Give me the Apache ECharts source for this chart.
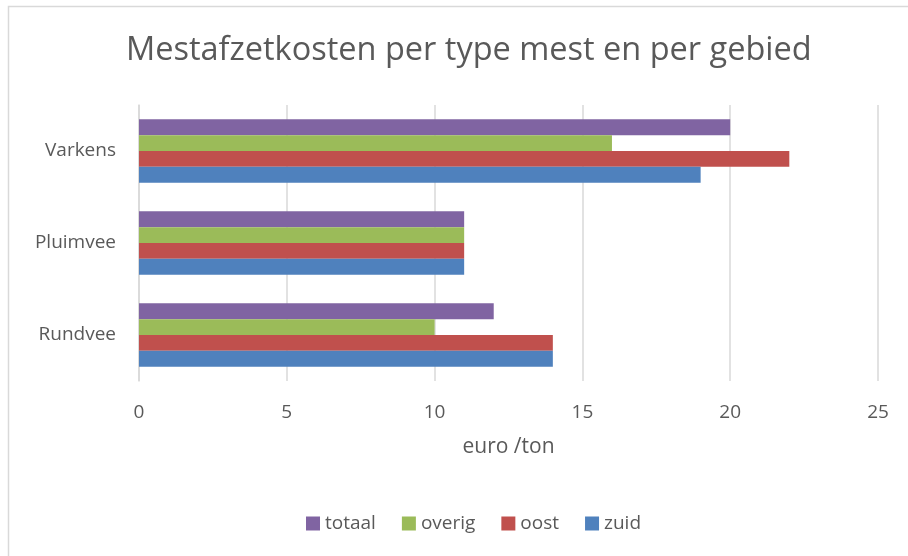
<!DOCTYPE html>
<html>
<head>
<meta charset="utf-8">
<script src="https://cdn.jsdelivr.net/npm/echarts@6/dist/echarts.min.js"></script>
<style>
  html, body { margin: 0; padding: 0; background: #fff; }
  #main { width: 908px; height: 556px; }
</style>
</head>
<body>
<div id="main"></div>
<script>
// categories (van onder naar boven)
var categories = ["Rundvee", "Pluimvee", "Varkens"];
var tickValues = [0, 5, 10, 15, 20, 25];
// waarden per gebied, euro/ton
var zuid = [14, 11, 19];
var oost = [14, 11, 22];
var overig = [10, 11, 16];
var totaal = [12, 11, 20];

var textColor = "#595959";
var font = "Open Sans";

var myChart = echarts.init(document.getElementById("main"));

function bar(name, data, color) {
  return {
    name: name,
    type: "bar",
    data: data,
    barGap: "0%",
    barCategoryGap: "31%",
    itemStyle: { color: color },
    emphasis: { disabled: true }
  };
}

var option = {
  animation: false,
  textStyle: { fontFamily: font },
  // het kader loopt rechts buiten beeld, dus titel en legenda staan iets rechts van het midden
  title: {
    text: "Mestafzetkosten per type mest en per gebied",
    left: 121,
    top: 29,
    textStyle: { fontFamily: font, fontSize: 32.5, fontWeight: "normal", color: textColor }
  },
  graphic: [{
    type: "rect",
    shape: { x: 8.5, y: 6.5, width: 920, height: 600 },
    style: { fill: "none", stroke: "#d9d9d9", lineWidth: 1.5 },
    silent: true
  }],
  legend: {
    data: ["totaal", "overig", "oost", "zuid"],
    top: 509,
    left: 301,
    itemWidth: 14,
    itemHeight: 14,
    itemGap: 26,
    icon: "rect",
    textStyle: { fontFamily: font, fontSize: 19, color: textColor }
  },
  grid: { left: 139, right: 30, top: 105, height: 276, containLabel: false },
  xAxis: {
    type: "value",
    min: tickValues[0],
    max: tickValues[tickValues.length - 1],
    interval: 5,
    name: "euro /ton",
    nameLocation: "middle",
    nameGap: 56,
    nameTextStyle: { fontFamily: font, fontSize: 21, color: textColor },
    axisLine: { show: false },
    axisTick: { show: false },
    axisLabel: { fontSize: 19, color: textColor, margin: 22 },
    splitLine: { lineStyle: { color: "#d9d9d9", width: 1.5 } }
  },
  yAxis: {
    type: "category",
    data: categories,
    axisLine: { lineStyle: { color: "#d9d9d9", width: 1.5 } },
    axisTick: { show: false },
    axisLabel: { fontSize: 19, color: textColor, margin: 23 }
  },
  // eerste serie staat bovenaan in de groep
  series: [
    bar("totaal", totaal, "#8064A2"),
    bar("overig", overig, "#9BBB59"),
    bar("oost", oost, "#C0504D"),
    bar("zuid", zuid, "#4F81BD")
  ]
};

option && myChart.setOption(option);
</script>
</body>
</html>
